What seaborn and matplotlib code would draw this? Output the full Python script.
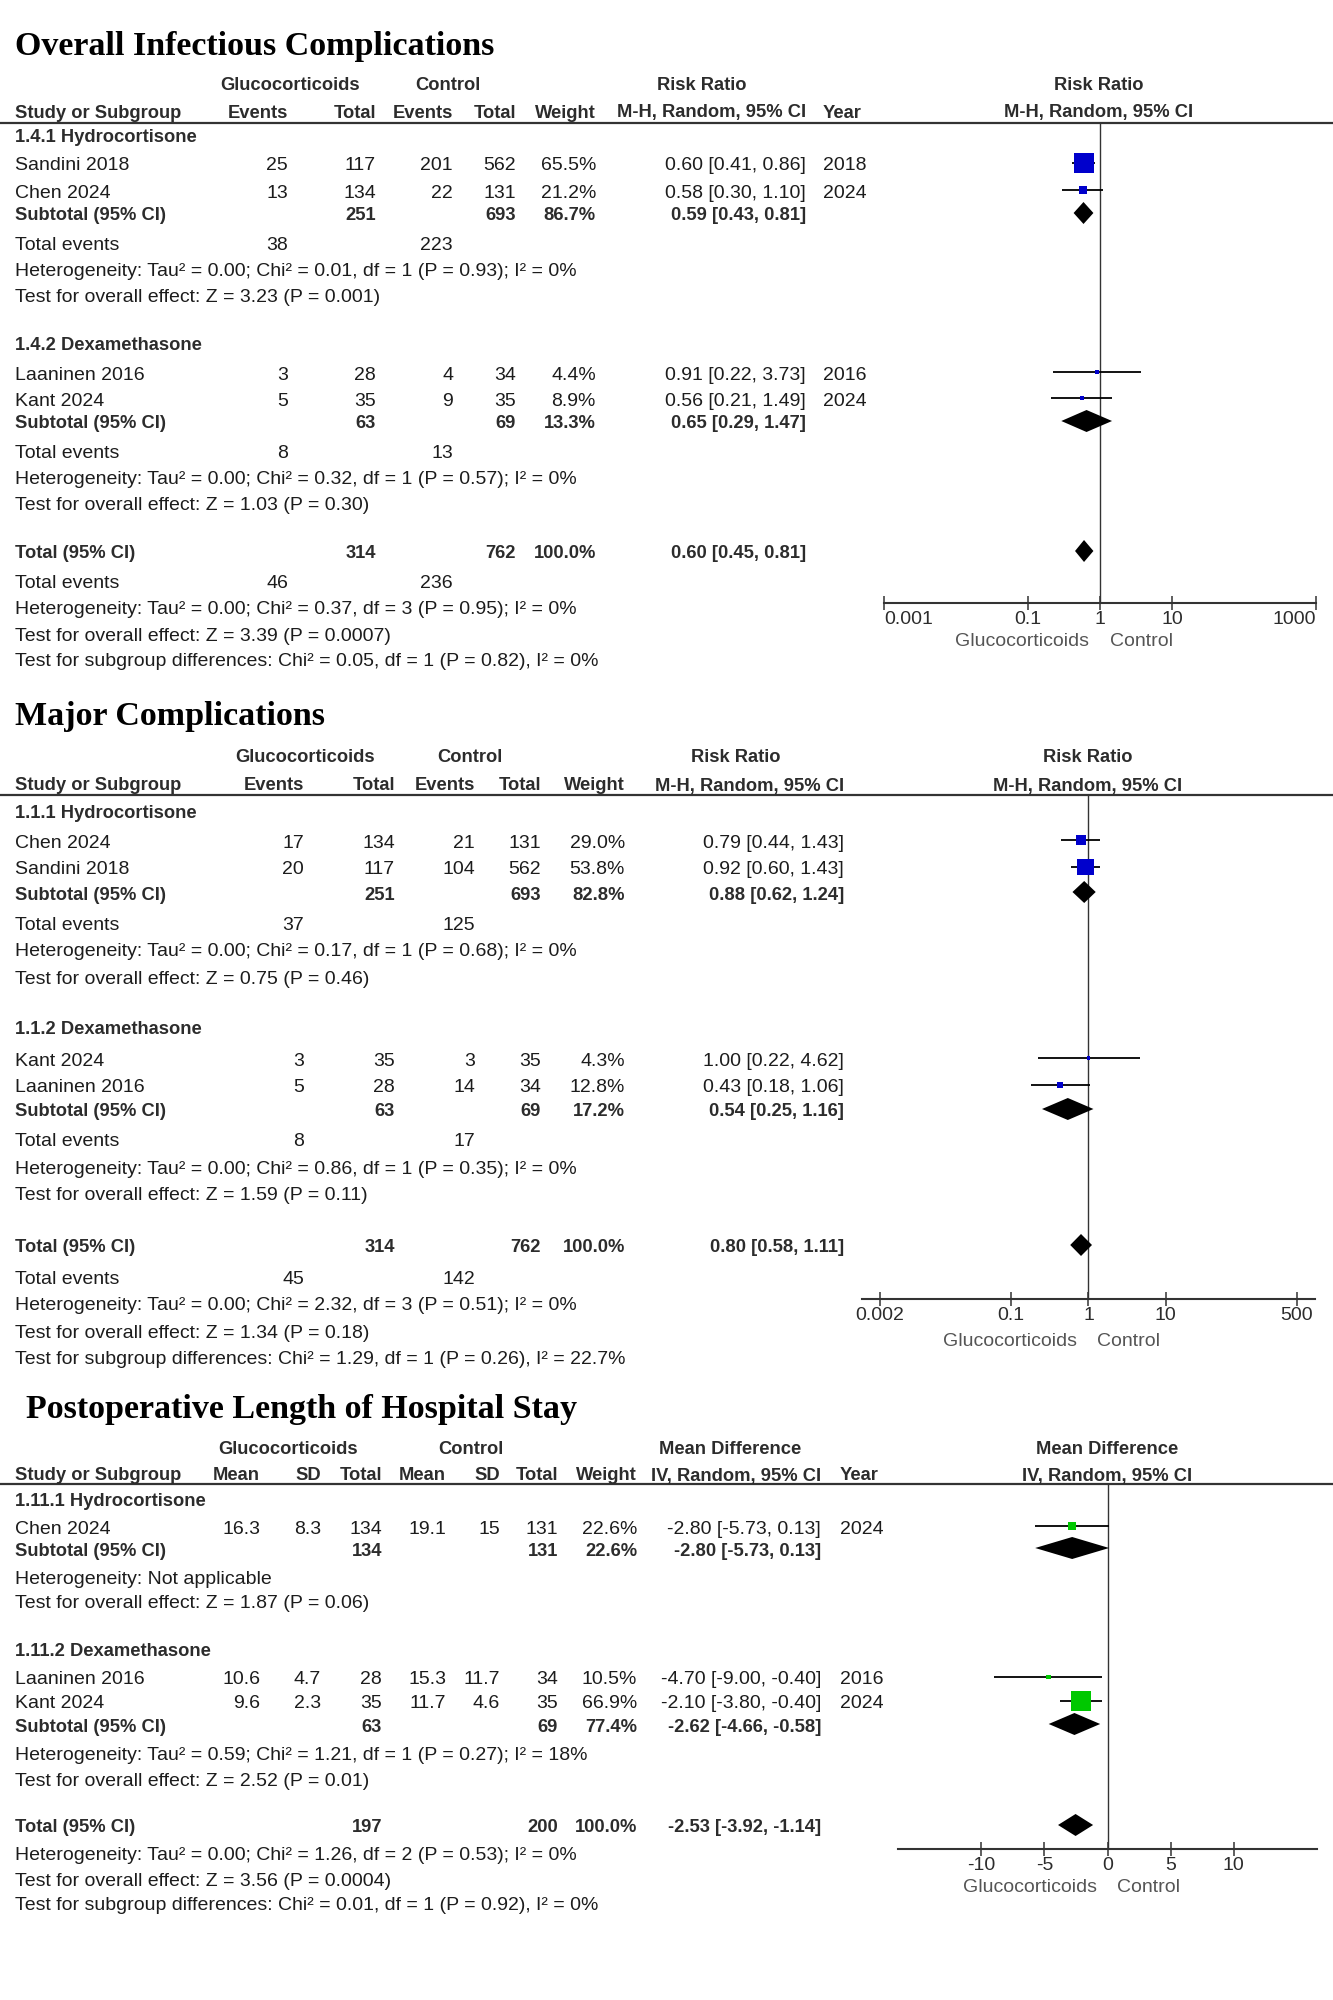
import numpy as np
import matplotlib.pyplot as plt
from matplotlib.lines import Line2D
from matplotlib.ticker import NullLocator
import seaborn as sns

# ---------------- Overall Infectious Complications (risk ratio) ----------------
inf_groups = ["1.4.1 Hydrocortisone", "1.4.2 Dexamethasone"]
inf_group_idx = [0, 0, 1, 1]
inf_studies = ["Sandini 2018", "Chen 2024", "Laaninen 2016", "Kant 2024"]
inf_glu_events = [25, 13, 3, 5]
inf_glu_total = [117, 134, 28, 35]
inf_ctl_events = [201, 22, 4, 9]
inf_ctl_total = [562, 131, 34, 35]
inf_weight = [65.5, 21.2, 4.4, 8.9]
inf_rr = [0.60, 0.58, 0.91, 0.56]
inf_lo = [0.41, 0.30, 0.22, 0.21]
inf_hi = [0.86, 1.10, 3.73, 1.49]
inf_year = [2018, 2024, 2016, 2024]
inf_sub_glu_total = [251, 63]
inf_sub_ctl_total = [693, 69]
inf_sub_weight = [86.7, 13.3]
inf_sub_rr = [0.59, 0.65]
inf_sub_lo = [0.43, 0.29]
inf_sub_hi = [0.81, 1.47]
inf_sub_glu_events = [38, 8]
inf_sub_ctl_events = [223, 13]
inf_sub_het = ["Heterogeneity: Tau² = 0.00; Chi² = 0.01, df = 1 (P = 0.93); I² = 0%",
               "Heterogeneity: Tau² = 0.00; Chi² = 0.32, df = 1 (P = 0.57); I² = 0%"]
inf_sub_z = ["Test for overall effect: Z = 3.23 (P = 0.001)",
             "Test for overall effect: Z = 1.03 (P = 0.30)"]
inf_tot_n = [314, 762]
inf_tot_weight = 100.0
inf_tot_rr = [0.60, 0.45, 0.81]
inf_tot_events = [46, 236]
inf_tot_notes = ["Heterogeneity: Tau² = 0.00; Chi² = 0.37, df = 3 (P = 0.95); I² = 0%",
                 "Test for overall effect: Z = 3.39 (P = 0.0007)",
                 "Test for subgroup differences: Chi² = 0.05, df = 1 (P = 0.82), I² = 0%"]
inf_ticks = [0.001, 0.1, 1, 10, 1000]
inf_ticklabels = ["0.001", "0.1", "1", "10", "1000"]

# ---------------- Major Complications (risk ratio) ----------------
maj_groups = ["1.1.1 Hydrocortisone", "1.1.2 Dexamethasone"]
maj_group_idx = [0, 0, 1, 1]
maj_studies = ["Chen 2024", "Sandini 2018", "Kant 2024", "Laaninen 2016"]
maj_glu_events = [17, 20, 3, 5]
maj_glu_total = [134, 117, 35, 28]
maj_ctl_events = [21, 104, 3, 14]
maj_ctl_total = [131, 562, 35, 34]
maj_weight = [29.0, 53.8, 4.3, 12.8]
maj_rr = [0.79, 0.92, 1.00, 0.43]
maj_lo = [0.44, 0.60, 0.22, 0.18]
maj_hi = [1.43, 1.43, 4.62, 1.06]
maj_sub_glu_total = [251, 63]
maj_sub_ctl_total = [693, 69]
maj_sub_weight = [82.8, 17.2]
maj_sub_rr = [0.88, 0.54]
maj_sub_lo = [0.62, 0.25]
maj_sub_hi = [1.24, 1.16]
maj_sub_glu_events = [37, 8]
maj_sub_ctl_events = [125, 17]
maj_sub_het = ["Heterogeneity: Tau² = 0.00; Chi² = 0.17, df = 1 (P = 0.68); I² = 0%",
               "Heterogeneity: Tau² = 0.00; Chi² = 0.86, df = 1 (P = 0.35); I² = 0%"]
maj_sub_z = ["Test for overall effect: Z = 0.75 (P = 0.46)",
             "Test for overall effect: Z = 1.59 (P = 0.11)"]
maj_tot_n = [314, 762]
maj_tot_weight = 100.0
maj_tot_rr = [0.80, 0.58, 1.11]
maj_tot_events = [45, 142]
maj_tot_notes = ["Heterogeneity: Tau² = 0.00; Chi² = 2.32, df = 3 (P = 0.51); I² = 0%",
                 "Test for overall effect: Z = 1.34 (P = 0.18)",
                 "Test for subgroup differences: Chi² = 1.29, df = 1 (P = 0.26), I² = 22.7%"]
maj_ticks = [0.002, 0.1, 1, 10, 500]
maj_ticklabels = ["0.002", "0.1", "1", "10", "500"]

# ---------------- Postoperative length of hospital stay (mean difference) ----------------
los_groups = ["1.11.1 Hydrocortisone", "1.11.2 Dexamethasone"]
los_group_idx = [0, 1, 1]
los_studies = ["Chen 2024", "Laaninen 2016", "Kant 2024"]
los_glu_mean = [16.3, 10.6, 9.6]
los_glu_sd = [8.3, 4.7, 2.3]
los_glu_n = [134, 28, 35]
los_ctl_mean = [19.1, 15.3, 11.7]
los_ctl_sd = [15, 11.7, 4.6]
los_ctl_n = [131, 34, 35]
los_weight = [22.6, 10.5, 66.9]
los_md = [-2.80, -4.70, -2.10]
los_lo = [-5.73, -9.00, -3.80]
los_hi = [0.13, -0.40, -0.40]
los_year = [2024, 2016, 2024]
los_sub_glu_n = [134, 63]
los_sub_ctl_n = [131, 69]
los_sub_weight = [22.6, 77.4]
los_sub_md = [-2.80, -2.62]
los_sub_lo = [-5.73, -4.66]
los_sub_hi = [0.13, -0.58]
los_sub_het = ["Heterogeneity: Not applicable",
               "Heterogeneity: Tau² = 0.59; Chi² = 1.21, df = 1 (P = 0.27); I² = 18%"]
los_sub_z = ["Test for overall effect: Z = 1.87 (P = 0.06)",
             "Test for overall effect: Z = 2.52 (P = 0.01)"]
los_tot_n = [197, 200]
los_tot_weight = 100.0
los_tot_md = [-2.53, -3.92, -1.14]
los_tot_notes = ["Heterogeneity: Tau² = 0.00; Chi² = 1.26, df = 2 (P = 0.53); I² = 0%",
                 "Test for overall effect: Z = 3.56 (P = 0.0004)",
                 "Test for subgroup differences: Chi² = 0.01, df = 1 (P = 0.92), I² = 0%"]
los_ticks = [-10, -5, 0, 5, 10]
los_ticklabels = ["-10", "-5", "0", "5", "10"]

# ---------------- style ----------------
W, H = 1333, 2000
TXT = "#1c1c1c"
HEAD = "#2c2c2c"
GREY = "#555555"
LINE = "#333333"
BLUE = "#0000cc"
GREEN = "#00c800"
FS = 14        # regular table text
FSB = 13.2     # bold table text (the original bold face is narrow)

sns.set_theme(style="white")
plt.rcParams["font.family"] = ["Liberation Sans", "DejaVu Sans"]

fig = plt.figure(figsize=(W / 100, H / 100), dpi=100)
fig.patch.set_facecolor("white")


def put(x, y, s, ha="left", bold=False, color=None):
    fig.text(x / W, 1 - (y + 3) / H, s, ha=ha, va="center",
             fontsize=FSB if bold else FS,
             fontweight="bold" if bold else "normal",
             color=color or (HEAD if bold else TXT))


def title(x, y, s):
    fig.text(x / W, 1 - y / H, s, ha="left", va="baseline", fontsize=24.5,
             fontweight="bold", family="Liberation Serif", color="black")


def rule(y):
    fig.add_artist(Line2D([0, 1], [1 - y / H] * 2, transform=fig.transFigure,
                          color=LINE, lw=1.6))


def ci_text(e, l, h):
    return f"{e:.2f} [{l:.2f}, {h:.2f}]"


def forest_ax(x0, x1, y_top, y_axis, xlim, ticks, labels, null, log=True):
    ax = fig.add_axes([x0 / W, 1 - y_axis / H, (x1 - x0) / W, (y_axis - y_top) / H])
    ax.patch.set_alpha(0)
    if log:
        ax.set_xscale("log")
    sns.despine(ax=ax, left=True)
    ax.spines["bottom"].set_color(LINE)
    ax.spines["bottom"].set_linewidth(1.5)
    ax.set_xticks(ticks)
    ax.set_xticklabels(labels)
    ax.xaxis.set_minor_locator(NullLocator())
    ax.tick_params(axis="x", bottom=True, direction="inout", length=10, width=1.1,
                   color=LINE, pad=1, labelsize=14, labelcolor=HEAD)
    ax.set_yticks([])
    ax.axvline(null, color=LINE, lw=1.0, zorder=1)
    ax.set_xlim(*xlim)
    ax.set_ylim(y_axis, y_top)
    return ax


def side_labels(ax, null, dy, gap_l, gap_r):
    for s, dx, ha in (("Glucocorticoids", -gap_l, "right"), ("Control", gap_r, "left")):
        ax.annotate(s, xy=(null, 0), xycoords=("data", "axes fraction"),
                    xytext=(dx, -dy), textcoords="offset pixels", ha=ha, va="center",
                    fontsize=FS, color=GREY, annotation_clip=False)


def marks(ax, est, lo, hi, ys, weight, color):
    ax.hlines(ys, lo, hi, color="black", lw=1.3, zorder=2, clip_on=False)
    side = 2 + 0.27 * np.asarray(weight)          # marker side in pixels
    sns.scatterplot(x=est, y=ys, marker="s", s=(side * 0.72) ** 2, color=color,
                    linewidth=0, ax=ax, legend=False, zorder=3, clip_on=False)


def diamond(ax, est, lo, hi, y, half=11):
    ax.fill([lo, est, hi, est], [y, y - half, y, y + half], color="black",
            lw=0, zorder=3, clip_on=False)


def binary_panel(d, c, lay, plot, color):
    title(15, lay["title"], d["title"])
    put(c["glu_hdr"], lay["hdr1"], "Glucocorticoids", "center", True)
    put(c["ctl_hdr"], lay["hdr1"], "Control", "center", True)
    put(c["ci_hdr"], lay["hdr1"], "Risk Ratio", "center", True)
    put(c["plot_hdr"], lay["hdr1"], "Risk Ratio", "center", True)
    put(c["study"], lay["hdr2"], "Study or Subgroup", "left", True)
    put(c["ge"], lay["hdr2"], "Events", "right", True)
    put(c["gt"], lay["hdr2"], "Total", "right", True)
    put(c["ce"], lay["hdr2"], "Events", "right", True)
    put(c["ct"], lay["hdr2"], "Total", "right", True)
    put(c["w"], lay["hdr2"], "Weight", "right", True)
    put(c["ci"], lay["hdr2"], "M-H, Random, 95% CI", "right", True)
    if d["year"] is not None:
        put(c["year"], lay["hdr2"], "Year", "left", True)
    put(c["plot_hdr"], lay["hdr2"], "M-H, Random, 95% CI", "center", True)
    rule(lay["rule"])

    ax = forest_ax(plot["x0"], plot["x1"], lay["rule"], lay["axis"], plot["xlim"],
                   d["ticks"], d["ticklabels"], 1)
    side_labels(ax, 1, plot["dy"], plot["gl"], plot["gr"])

    for i, y in enumerate(lay["study"]):
        put(c["study"], y, d["studies"][i])
        put(c["ge"], y, str(d["ge"][i]), "right")
        put(c["gt"], y, str(d["gt"][i]), "right")
        put(c["ce"], y, str(d["ce"][i]), "right")
        put(c["ct"], y, str(d["ct"][i]), "right")
        put(c["w"], y, f"{d['w'][i]:.1f}%", "right")
        put(c["ci"], y, ci_text(d["est"][i], d["lo"][i], d["hi"][i]), "right")
        if d["year"] is not None:
            put(c["year"], y, str(d["year"][i]))
    marks(ax, d["est"], d["lo"], d["hi"], lay["study"], d["w"], color)

    for g, name in enumerate(d["groups"]):
        put(c["study"], lay["group"][g], name, bold=True)
        y = lay["sub"][g]
        put(c["study"], y, "Subtotal (95% CI)", bold=True)
        put(c["gt"], y, str(d["sub_gt"][g]), "right", True)
        put(c["ct"], y, str(d["sub_ct"][g]), "right", True)
        put(c["w"], y, f"{d['sub_w'][g]:.1f}%", "right", True)
        put(c["ci"], y, ci_text(d["sub_est"][g], d["sub_lo"][g], d["sub_hi"][g]), "right", True)
        diamond(ax, d["sub_est"][g], d["sub_lo"][g], d["sub_hi"][g], y)
        y = lay["events"][g]
        put(c["study"], y, "Total events")
        put(c["ge"], y, str(d["sub_ge"][g]), "right")
        put(c["ce"], y, str(d["sub_ce"][g]), "right")
        put(c["study"], lay["het"][g], d["sub_het"][g])
        put(c["study"], lay["z"][g], d["sub_z"][g])

    y = lay["total"]
    put(c["study"], y, "Total (95% CI)", bold=True)
    put(c["gt"], y, str(d["tot_n"][0]), "right", True)
    put(c["ct"], y, str(d["tot_n"][1]), "right", True)
    put(c["w"], y, f"{d['tot_w']:.1f}%", "right", True)
    put(c["ci"], y, ci_text(*d["tot"]), "right", True)
    diamond(ax, d["tot"][0], d["tot"][1], d["tot"][2], y)
    put(c["study"], lay["tot_events"], "Total events")
    put(c["ge"], lay["tot_events"], str(d["tot_ev"][0]), "right")
    put(c["ce"], lay["tot_events"], str(d["tot_ev"][1]), "right")
    for yy, note in zip(lay["notes"], d["notes"]):
        put(c["study"], yy, note)
    ax.set_xlim(*plot["xlim"])
    ax.set_ylim(lay["axis"], lay["rule"])
    return ax


# ---------------- panel 1 ----------------
inf = dict(title="Overall Infectious Complications", groups=inf_groups, studies=inf_studies,
           ge=inf_glu_events, gt=inf_glu_total, ce=inf_ctl_events, ct=inf_ctl_total,
           w=inf_weight, est=inf_rr, lo=inf_lo, hi=inf_hi, year=inf_year,
           sub_gt=inf_sub_glu_total, sub_ct=inf_sub_ctl_total, sub_w=inf_sub_weight,
           sub_est=inf_sub_rr, sub_lo=inf_sub_lo, sub_hi=inf_sub_hi,
           sub_ge=inf_sub_glu_events, sub_ce=inf_sub_ctl_events,
           sub_het=inf_sub_het, sub_z=inf_sub_z, tot_n=inf_tot_n, tot_w=inf_tot_weight,
           tot=inf_tot_rr, tot_ev=inf_tot_events, notes=inf_tot_notes,
           ticks=inf_ticks, ticklabels=inf_ticklabels)
inf_cols = dict(study=15, ge=288, gt=376, ce=453, ct=516, w=596, ci=806, year=823,
                glu_hdr=290, ctl_hdr=448, ci_hdr=702, plot_hdr=1099)
inf_lay = dict(title=55, hdr1=83, hdr2=110, rule=122.5, axis=603,
               study=[163, 190, 372, 398], group=[135, 343], sub=[213, 421],
               events=[242, 450], het=[268, 476], z=[295, 503],
               total=551, tot_events=580, notes=[607, 633, 658])
inf_plot = dict(x0=884, x1=1316, xlim=(0.001, 1000), dy=39, gl=11, gr=10)
ax1 = binary_panel(inf, inf_cols, inf_lay, inf_plot, BLUE)

# ---------------- panel 2 ----------------
maj = dict(title="Major Complications", groups=maj_groups, studies=maj_studies,
           ge=maj_glu_events, gt=maj_glu_total, ce=maj_ctl_events, ct=maj_ctl_total,
           w=maj_weight, est=maj_rr, lo=maj_lo, hi=maj_hi, year=None,
           sub_gt=maj_sub_glu_total, sub_ct=maj_sub_ctl_total, sub_w=maj_sub_weight,
           sub_est=maj_sub_rr, sub_lo=maj_sub_lo, sub_hi=maj_sub_hi,
           sub_ge=maj_sub_glu_events, sub_ce=maj_sub_ctl_events,
           sub_het=maj_sub_het, sub_z=maj_sub_z, tot_n=maj_tot_n, tot_w=maj_tot_weight,
           tot=maj_tot_rr, tot_ev=maj_tot_events, notes=maj_tot_notes,
           ticks=maj_ticks, ticklabels=maj_ticklabels)
maj_cols = dict(study=15, ge=304, gt=395, ce=475, ct=541, w=625, ci=844, year=None,
                glu_hdr=305, ctl_hdr=470, ci_hdr=736, plot_hdr=1088)
maj_lay = dict(title=725, hdr1=755, hdr2=783, rule=795, axis=1299,
               study=[840, 867, 1058, 1085], group=[810, 1027], sub=[892, 1109],
               events=[922, 1138], het=[949, 1167], z=[977, 1193],
               total=1245, tot_events=1276, notes=[1303, 1330, 1357])
maj_plot = dict(x0=862, x1=1315, xlim=(0.00117, 855), dy=42, gl=11, gr=9)
ax2 = binary_panel(maj, maj_cols, maj_lay, maj_plot, BLUE)

# ---------------- panel 3 ----------------
c3 = dict(study=15, gm=260, gs=321, gn=382, cm=446, cs=500, cn=558, w=637, ci=821,
          year=840, glu_hdr=288, ctl_hdr=471, ci_hdr=730, plot_hdr=1107)
title(26, 1418, "Postoperative Length of Hospital Stay")
put(c3["glu_hdr"], 1447, "Glucocorticoids", "center", True)
put(c3["ctl_hdr"], 1447, "Control", "center", True)
put(c3["ci_hdr"], 1447, "Mean Difference", "center", True)
put(c3["plot_hdr"], 1447, "Mean Difference", "center", True)
for key, lab in (("gm", "Mean"), ("gs", "SD"), ("gn", "Total"), ("cm", "Mean"),
                 ("cs", "SD"), ("cn", "Total"), ("w", "Weight"), ("ci", "IV, Random, 95% CI")):
    put(c3[key], 1473, lab, "right", True)
put(c3["study"], 1473, "Study or Subgroup", "left", True)
put(c3["year"], 1473, "Year", "left", True)
put(c3["plot_hdr"], 1473, "IV, Random, 95% CI", "center", True)
rule(1484)

ax3 = forest_ax(898, 1317, 1484, 1849, (-16.6, 16.6), los_ticks, los_ticklabels, 0, log=False)
side_labels(ax3, 0, 38, 10, 10)

los_rows = [1526, 1677, 1701]
for i, y in enumerate(los_rows):
    put(c3["study"], y, los_studies[i])
    put(c3["gm"], y, f"{los_glu_mean[i]:g}", "right")
    put(c3["gs"], y, f"{los_glu_sd[i]:g}", "right")
    put(c3["gn"], y, str(los_glu_n[i]), "right")
    put(c3["cm"], y, f"{los_ctl_mean[i]:g}", "right")
    put(c3["cs"], y, f"{los_ctl_sd[i]:g}", "right")
    put(c3["cn"], y, str(los_ctl_n[i]), "right")
    put(c3["w"], y, f"{los_weight[i]:.1f}%", "right")
    put(c3["ci"], y, ci_text(los_md[i], los_lo[i], los_hi[i]), "right")
    put(c3["year"], y, str(los_year[i]))
marks(ax3, los_md, los_lo, los_hi, los_rows, los_weight, GREEN)

los_group_y = [1498, 1648]
los_sub_y = [1548, 1724]
los_het_y = [1577, 1753]
los_z_y = [1601, 1778]
for g, name in enumerate(los_groups):
    put(c3["study"], los_group_y[g], name, bold=True)
    y = los_sub_y[g]
    put(c3["study"], y, "Subtotal (95% CI)", bold=True)
    put(c3["gn"], y, str(los_sub_glu_n[g]), "right", True)
    put(c3["cn"], y, str(los_sub_ctl_n[g]), "right", True)
    put(c3["w"], y, f"{los_sub_weight[g]:.1f}%", "right", True)
    put(c3["ci"], y, ci_text(los_sub_md[g], los_sub_lo[g], los_sub_hi[g]), "right", True)
    diamond(ax3, los_sub_md[g], los_sub_lo[g], los_sub_hi[g], y)
    put(c3["study"], los_het_y[g], los_sub_het[g])
    put(c3["study"], los_z_y[g], los_sub_z[g])

put(c3["study"], 1825, "Total (95% CI)", bold=True)
put(c3["gn"], 1825, str(los_tot_n[0]), "right", True)
put(c3["cn"], 1825, str(los_tot_n[1]), "right", True)
put(c3["w"], 1825, f"{los_tot_weight:.1f}%", "right", True)
put(c3["ci"], 1825, ci_text(*los_tot_md), "right", True)
diamond(ax3, los_tot_md[0], los_tot_md[1], los_tot_md[2], 1825)
for yy, note in zip([1853, 1878, 1903], los_tot_notes):
    put(c3["study"], yy, note)
ax3.set_xlim(-16.6, 16.6)
ax3.set_ylim(1849, 1484)

# keep the outermost tick labels of the first plot inside the axis line
tl = ax1.get_xticklabels()
tl[0].set_ha("left")
tl[-1].set_ha("right")

fig.savefig("out.png", dpi=100, facecolor="white")
